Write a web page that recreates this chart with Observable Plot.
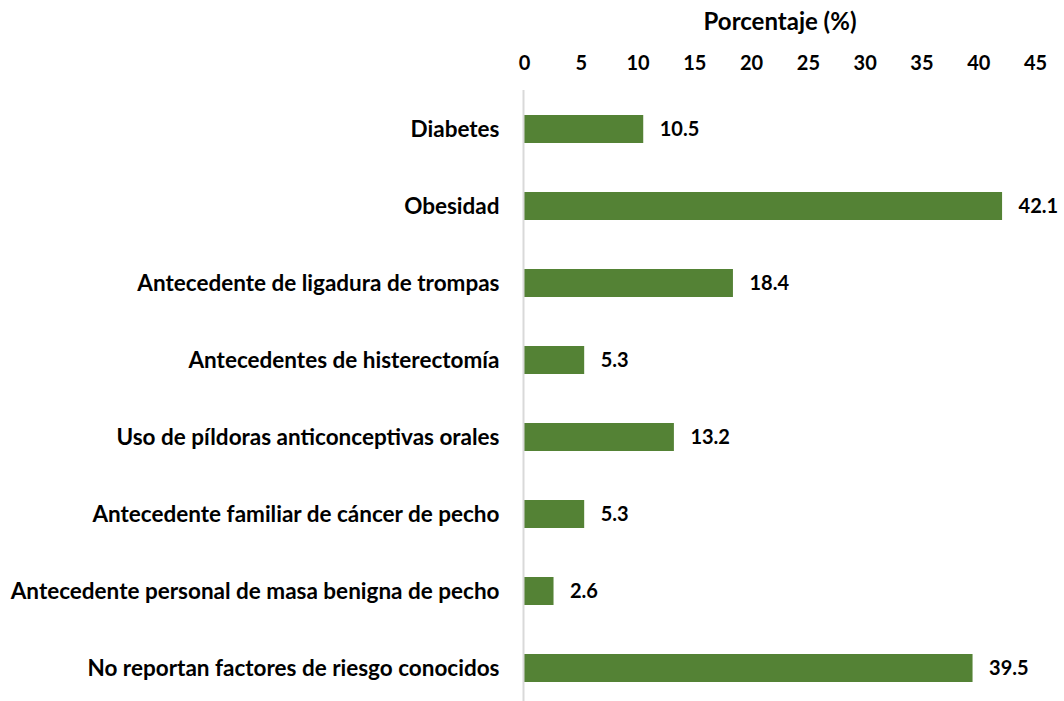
<!DOCTYPE html>
<html>
<head>
<meta charset="utf-8">
<script src="https://cdn.jsdelivr.net/npm/d3@7"></script>
<script src="https://cdn.jsdelivr.net/npm/@observablehq/plot@0.6"></script>
<style>
  html, body { margin: 0; padding: 0; background: #fff; }
  #chart svg { font-family: Lato, "Liberation Sans", sans-serif; font-weight: bold; }
</style>
</head>
<body>
<div id="chart"></div>
<script>
const categories = [
  "Diabetes",
  "Obesidad",
  "Antecedente de ligadura de trompas",
  "Antecedentes de histerectomía",
  "Uso de píldoras anticonceptivas orales",
  "Antecedente familiar de cáncer de pecho",
  "Antecedente personal de masa benigna de pecho",
  "No reportan factores de riesgo conocidos"
];
const values = [10.5, 42.1, 18.4, 5.3, 13.2, 5.3, 2.6, 39.5];
const xTicks = [0, 5, 10, 15, 20, 25, 30, 35, 40, 45];
const axisTitle = "Porcentaje (%)";

const data = categories.map((c, i) => ({category: c, value: values[i]}));

const chart = Plot.plot({
  width: 1064,
  height: 701,
  marginLeft: 524,
  marginRight: 29,
  marginTop: 90,
  marginBottom: 0,
  style: {fontFamily: "Lato, 'Liberation Sans', sans-serif", fontWeight: "bold", color: "#000", background: "#fff"},
  x: {domain: [0, 45], ticks: xTicks},
  y: {domain: categories, range: [90.4, 707.2], paddingInner: 0.64, paddingOuter: 0.32},
  marks: [
    Plot.axisX({anchor: "top", ticks: xTicks, tickSize: 0, tickPadding: 21, fontSize: 20,
      label: axisTitle, labelAnchor: "center", labelOffset: 78, labelArrow: "none"}),
    Plot.axisY({tickSize: 0, tickPadding: 25, fontSize: 22.5, label: null}),
    Plot.barX(data, {x: "value", y: "category", fill: "#548235"}),
    Plot.ruleX([0], {stroke: "#d9d9d9", strokeWidth: 2, dx: -1}),
    Plot.text(data, {x: "value", y: "category", text: d => d.value.toFixed(1), textAnchor: "start", dx: 16, fontSize: 20, fill: "#000"})
  ]
});
// enlarge axis title only
chart.querySelectorAll("g[aria-label='x-axis label'] text, g[aria-label='x-axis label']").forEach(el => el.setAttribute("font-size", 24));
document.getElementById("chart").appendChild(chart);
</script>
</body>
</html>
